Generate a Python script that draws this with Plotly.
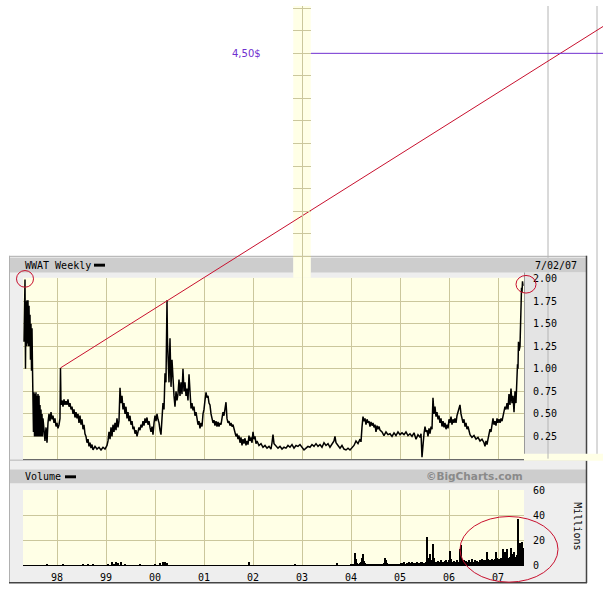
import plotly.graph_objects as go

# ---------------- DATA ----------------
# weekly WWAT price readings; t = fraction of the calendar year, p = price ($)
t97 = [0.327,0.337,0.347,0.357,0.367,0.378,0.388,0.398,0.408,0.418,0.429,0.439,0.449,0.459,0.469,0.480,0.490,0.500,
       0.510,0.520,0.531,0.541,0.551,0.561,0.571,0.582,0.592,0.602,0.612,0.622,0.633,0.643,0.653,0.663,0.673,0.684,0.694,0.704,
       0.714,0.735,0.755,0.776,0.796,0.816,0.837,0.857,0.878,0.898,0.918,0.939,0.959,0.980]
p97 = [1.30,1.60,1.99,1.00,1.75,1.25,1.76,1.28,1.76,1.25,1.70,1.25,1.60,1.10,1.50,0.98,1.45,1.00,
       0.74,0.30,0.74,0.25,0.72,0.25,0.74,0.25,0.70,0.25,0.72,0.25,0.70,0.25,0.60,0.25,0.55,0.25,0.50,0.25,
       0.45,0.30,0.20,0.35,0.18,0.40,0.50,0.42,0.52,0.44,0.48,0.40,0.45,0.36]

t98 = [0.000,0.020,0.041,0.061,0.071,0.082,0.102,0.122,0.143,0.163,0.184,0.204,0.224,0.245,0.265,0.286,0.306,0.327,0.347,0.367,0.388,0.408,0.429,0.449,0.469,0.490,0.510,0.531,0.551,0.571,0.592,0.612,0.633,0.653,0.673,0.694,0.714,0.735,0.776,0.816,0.857,0.898,0.939,0.980]
p98 = [0.40,0.34,0.38,0.45,1.01,0.60,0.65,0.58,0.66,0.60,0.64,0.60,0.66,0.58,0.62,0.55,0.58,0.50,0.55,0.46,0.52,0.45,0.50,0.40,0.48,0.38,0.44,0.33,0.38,0.28,0.25,0.18,0.22,0.14,0.18,0.12,0.16,0.10,0.14,0.11,0.13,0.10,0.13,0.11]

t99 = [0.020,0.041,0.061,0.082,0.102,0.122,0.143,0.163,0.184,0.204,0.224,0.245,0.265,0.286,0.306,0.327,0.347,0.367,0.388,0.408,0.429,0.449,0.469,0.490,0.510,0.531,0.551,0.571,0.592,0.612,0.633,0.653,0.673,0.694,0.714,0.735,0.755,0.776,0.796,0.816,0.837,0.857,0.878,0.898,0.918,0.939,0.959,0.980]
p99 = [0.15,0.20,0.30,0.22,0.35,0.25,0.38,0.30,0.40,0.32,0.45,0.35,0.42,0.79,0.62,0.70,0.55,0.62,0.50,0.58,0.45,0.52,0.42,0.48,0.38,0.42,0.33,0.36,0.28,0.32,0.25,0.30,0.35,0.32,0.38,0.35,0.42,0.37,0.45,0.40,0.46,0.38,0.42,0.35,0.30,0.36,0.27,0.40]

t00 = [0.000,0.020,0.041,0.061,0.082,0.102,0.122,0.143,0.163,0.184,0.204,0.224,0.245,0.255,0.265,0.286,0.306,0.327,0.347,0.367,0.388,0.408,0.429,0.449,0.469,0.490,0.510,0.531,0.551,0.571,0.592,0.612,0.633,0.653,0.673,0.694,0.714,0.735,0.755,0.776,0.796,0.816,0.837,0.857,0.878,0.898,0.918,0.939,0.959,0.980]
p00 = [0.48,0.42,0.50,0.44,0.40,0.32,0.27,0.45,0.62,0.55,0.95,0.85,1.76,1.30,1.15,0.85,1.34,0.80,1.10,0.84,0.70,0.58,0.75,0.65,0.72,0.88,0.70,0.85,0.72,1.00,0.75,0.85,0.70,0.78,0.65,0.94,0.65,0.56,0.62,0.54,0.58,0.48,0.52,0.45,0.38,0.42,0.34,0.40,0.36,0.50]

t01 = [0.000,0.020,0.041,0.061,0.082,0.102,0.122,0.143,0.163,0.184,0.204,0.224,0.245,0.265,0.286,0.306,0.327,0.347,0.367,0.388,0.408,0.429,0.449,0.469,0.490,0.510,0.531,0.551,0.571,0.592,0.612,0.633,0.653,0.673,0.694,0.714,0.735,0.755,0.776,0.796,0.816,0.837,0.857,0.878,0.898,0.918,0.939,0.959,0.980]
p01 = [0.55,0.65,0.74,0.68,0.70,0.62,0.60,0.50,0.45,0.40,0.43,0.37,0.42,0.36,0.41,0.36,0.40,0.38,0.45,0.52,0.48,0.55,0.63,0.45,0.40,0.42,0.37,0.40,0.36,0.38,0.34,0.30,0.25,0.28,0.22,0.26,0.18,0.24,0.15,0.22,0.17,0.23,0.15,0.20,0.16,0.26,0.20,0.24,0.18]

t02 = [0.000,0.020,0.041,0.061,0.082,0.122,0.163,0.204,0.245,0.286,0.327,0.367,0.388,0.408,0.429,0.469,0.510,0.551,0.592,0.633,0.673,0.714,0.755,0.796,0.837,0.878,0.918,0.959]
p02 = [0.30,0.22,0.25,0.17,0.20,0.15,0.17,0.13,0.15,0.12,0.14,0.11,0.18,0.27,0.17,0.14,0.12,0.14,0.11,0.13,0.12,0.15,0.13,0.16,0.12,0.15,0.14,0.16]

t03 = [0.000,0.041,0.082,0.122,0.163,0.204,0.245,0.286,0.327,0.367,0.408,0.449,0.490,0.531,0.571,0.612,0.653,0.673,0.694,0.735,0.776,0.816,0.857,0.898,0.939,0.980]
p03 = [0.13,0.10,0.12,0.14,0.13,0.16,0.14,0.17,0.14,0.16,0.13,0.18,0.15,0.17,0.13,0.17,0.20,0.25,0.18,0.15,0.12,0.15,0.11,0.10,0.12,0.10]

t04 = [0.020,0.061,0.102,0.143,0.184,0.204,0.224,0.245,0.265,0.286,0.306,0.327,0.347,0.367,0.388,0.408,0.429,0.449,0.469,0.490,0.510,0.531,0.551,0.571,0.592,0.633,0.673,0.714,0.755,0.796,0.837,0.878,0.918,0.959]
p04 = [0.12,0.15,0.20,0.17,0.22,0.19,0.35,0.47,0.42,0.45,0.38,0.44,0.40,0.42,0.36,0.41,0.37,0.40,0.35,0.38,0.30,0.37,0.33,0.36,0.32,0.30,0.26,0.30,0.27,0.28,0.25,0.29,0.26,0.30]

t05 = [0.000,0.041,0.082,0.122,0.163,0.204,0.245,0.286,0.327,0.367,0.408,0.429,0.449,0.469,0.490,0.510,0.531,0.551,0.571,0.592,0.612,0.633,0.653,0.673,0.694,0.714,0.735,0.755,0.776,0.796,0.816,0.837,0.857,0.878,0.898,0.918,0.939,0.959,0.980]
p05 = [0.27,0.29,0.27,0.30,0.26,0.28,0.25,0.29,0.22,0.27,0.24,0.28,0.02,0.20,0.28,0.36,0.30,0.32,0.25,0.34,0.28,0.36,0.33,0.68,0.50,0.58,0.47,0.52,0.44,0.48,0.40,0.45,0.36,0.42,0.35,0.40,0.33,0.38,0.34]

t06 = [0.000,0.020,0.041,0.061,0.082,0.102,0.122,0.143,0.163,0.184,0.204,0.224,0.245,0.265,0.286,0.306,0.327,0.347,0.367,0.388,0.408,0.429,0.469,0.510,0.551,0.592,0.633,0.673,0.714,0.735,0.755,0.776,0.796,0.816,0.837,0.857,0.878,0.898,0.918,0.939,0.959,0.980]
p06 = [0.44,0.40,0.47,0.38,0.44,0.40,0.45,0.40,0.48,0.52,0.56,0.60,0.50,0.46,0.40,0.44,0.36,0.40,0.33,0.36,0.30,0.27,0.24,0.26,0.22,0.24,0.20,0.22,0.18,0.14,0.20,0.16,0.22,0.28,0.33,0.30,0.38,0.45,0.38,0.42,0.37,0.45]

t07 = [0.000,0.020,0.041,0.061,0.082,0.102,0.122,0.143,0.163,0.184,0.204,0.224,0.245,0.265,0.286,0.306,0.327,0.347,0.367,0.388,0.398,0.408,0.418,0.429,0.449,0.459,0.469,0.480,0.490,0.500,0.510]
p07 = [0.40,0.44,0.40,0.45,0.42,0.48,0.52,0.58,0.55,0.62,0.55,0.72,0.60,0.78,0.62,0.70,0.52,0.75,0.62,0.95,1.05,1.00,1.30,1.20,1.25,1.50,1.55,1.90,1.85,1.97,1.92]

# weekly volume (millions) 2004 - mid 2007, one value per week
vol_2004 = [0.6,0.8,1.0,1.5,10,5,2,1.5,1.2,2,3,6,9,3.5,2,1.5,1.2,1.0,1.5,1.0,
            0.8,1.2,1.0,0.8,1.0,0.7,1.2,0.9,0.8,1.0,1.1,0.9,1.5,1.2,1.0,2.0,6,4.5,2,1.5,
            1.0,1.2,0.9,1.1,1.0,1.3,0.8,1.2,1.5,1.0,1.2,1.4]
vol_2005 = [1.5,2,1.2,1.8,2.5,1.5,1.2,2,1.8,2.5,1.5,2,3,1.8,1.5,2.2,1.6,2,2.8,1.5,
            2,1.8,2.5,3,2,1.5,2.2,2.5,23,4,6,9,3,4,3,17,6,2.5,3,2,
            3.5,2.5,3,4,2.5,3,2,3.5,4,3,2.5,4]
vol_2006 = [3,11.5,5,3,2.5,3.5,2,3,4,2.5,3,13,16,5,3,4,2.5,3,3.5,2,
            3,4,2.5,3,5,3,2.5,4,3,3.5,2.5,3,4,3,5,3.5,4,3,4.5,3,
            11,5,3.5,4,3,5,4,3.5,5,11,6,4]
vol_2007 = [4,5,4,6,5,13,5,11,6,13,5,6,7,14,9,6,11,7,6,7,8,37,9,18,10,19,14]
# sparse volume spikes before 2004 (decimal year, millions)
vol_early_t = [1997.796,1998.122,1998.531,1998.633,1998.735,1999.041,1999.122,1999.163,1999.204,1999.245,1999.306,1999.388,1999.694,2000.000,2000.102,2000.163,2000.204,2000.245,2001.918,2002.857,2003.714]
vol_early_v = [1.3,1.0,1.0,1.0,1.2,1.5,2.5,1.5,3.0,2.0,2.5,1.5,1.0,1.5,2.0,2.5,3.0,2.0,2.5,1.0,2.3]

year_ticks = [1998,1999,2000,2001,2002,2003,2004,2005,2006,2007]
year_labels = ["98","99","00","01","02","03","04","05","06","07"]
price_ticks = [0.25,0.50,0.75,1.00,1.25,1.50,1.75,2.00]
price_labels = ["0.25","0.50","0.75","1.00","1.25","1.50","1.75","2.00"]
vol_ticks = [0,20,40,60]
vol_labels = ["0","20","40","60"]

# hand-drawn annotations on the chart
trend_x = [1998.071, 2009.15]
trend_y = [1.01, 4.80]
target_price = 4.50
target_label = "4,50$"

# ---------------- LAYOUT ----------------
W, H = 603, 595
def X(px): return px / W
def Y(py): return 1 - py / H

YEAR0_PX, PX_PER_YEAR = 57.0, 49.0      # 1998 gridline, pixels per year
ZERO_PY, PX_PER_DOLLAR = 462.3, 92.0    # price 0 and pixels per dollar
def yr(px): return 1998 + (px - YEAR0_PX) / PX_PER_YEAR
def pr(py): return (ZERO_PY - py) / PX_PER_DOLLAR

PL, PR = 23.0, 524.0          # plot left/right
PT, PB = 277.3, ZERO_PY       # price plot top/bottom
VT, VB = 494.0, 571.0         # volume plot top/bottom
SL, SR = 293.3, 310.7         # yellow strip

price_x, price_y = [], []
for y0, ts, ps in [(1997,t97,p97),(1998,t98,p98),(1999,t99,p99),(2000,t00,p00),(2001,t01,p01),
                   (2002,t02,p02),(2003,t03,p03),(2004,t04,p04),(2005,t05,p05),(2006,t06,p06),(2007,t07,p07)]:
    for t, p in zip(ts, ps):
        price_x.append(y0 + t)
        price_y.append(p)

vol_x, vol_y = list(vol_early_t), list(vol_early_v)
for y0, vs in [(2004,vol_2004),(2005,vol_2005),(2006,vol_2006),(2007,vol_2007)]:
    for i, v in enumerate(vs):
        vol_x.append(y0 + (i + 0.5) / 52)
        vol_y.append(v)

PLOT_BG = "#ffffe6"
GRID = "#cbc79c"
PANEL = "#eeeeee"
HEADER = "#cdcdcd"
AXISBG = "#e4e4e4"
RED = "#c8102e"
PURPLE = "#7030d0"
MONO = "DejaVu Sans Mono"

fig = go.Figure()
fig.add_trace(go.Scatter(x=price_x, y=price_y, mode="lines", line=dict(color="black", width=1.5),
                         xaxis="x", yaxis="y", hoverinfo="skip"))
fig.add_trace(go.Bar(x=vol_x, y=vol_y, width=0.021, marker=dict(color="black", line=dict(width=0)),
                     xaxis="x2", yaxis="y2", hoverinfo="skip"))
fig.add_trace(go.Scatter(x=trend_x, y=trend_y, mode="lines", line=dict(color=RED, width=1),
                         xaxis="x3", yaxis="y3", hoverinfo="skip"))
fig.add_trace(go.Scatter(x=[yr(311), yr(W)], y=[target_price, target_price], mode="lines",
                         line=dict(color=PURPLE, width=1), xaxis="x3", yaxis="y3", hoverinfo="skip"))

shapes = []
def rect(x0, y0, x1, y1, fill, layer="below", line=None):
    shapes.append(dict(type="rect", xref="paper", yref="paper", x0=X(x0), x1=X(x1), y0=Y(y1), y1=Y(y0),
                       fillcolor=fill, line=line or dict(width=0), layer=layer))
def hline(x0, x1, y, color, w=1, layer="below"):
    shapes.append(dict(type="line", xref="paper", yref="paper", x0=X(x0), x1=X(x1), y0=Y(y), y1=Y(y),
                       line=dict(color=color, width=w), layer=layer))
def vline(x, y0, y1, color, w=1, layer="below"):
    shapes.append(dict(type="line", xref="paper", yref="paper", x0=X(x), x1=X(x), y0=Y(y0), y1=Y(y1),
                       line=dict(color=color, width=w), layer=layer))

# chart frame
rect(9, 255, 587, 589, PANEL)
rect(10, 257, SL, 272, HEADER)
rect(SR, 257, 586, 272, HEADER)
rect(PR, 272, 586, 462, AXISBG)
rect(PL, PT, PR, PB, PLOT_BG)
rect(10, 473, 586, 487, HEADER)
rect(PL, VT, PR, VB, PLOT_BG)
rect(SL, 0, SR, PT, PLOT_BG)
vline(PR + 0.5, 272, 462, "#9a9a9a")
hline(9, 587, 255.5, "#b0b0b0")
vline(9.5, 255, 589, "#b0b0b0")
vline(586.5, 255, 589, "#444444", 1.5)
hline(9, 587, 588.5, "#444444", 1.5)
hline(9, 587, 463.5, "#b5b5b5")
# pasted strip at lower right
rect(PR, 457, W, 464, PLOT_BG)
# grey verticals
vline(548, 0, 257, "#b4b4b4")
vline(548, 272, 462, "#b4b4b4")
vline(597, 0, 457, "#b4b4b4")
# legend swatches
rect(94, 263, 105, 266, "black", layer="above")
rect(65, 479, 76, 482, "black", layer="above")
# red circles
def circ(cx, cy, rx, ry):
    shapes.append(dict(type="circle", xref="paper", yref="paper", x0=X(cx - rx), x1=X(cx + rx),
                       y0=Y(cy + ry), y1=Y(cy - ry), line=dict(color=RED, width=1), layer="above"))
circ(25, 278.5, 8.5, 8.5)
circ(526, 284, 10, 9)
circ(509, 554.5, 49, 33.5)

annotations = [
    dict(text="WWAT Weekly", x=X(PL), y=Y(264.5), xanchor="left", yanchor="middle"),
    dict(text="7/02/07", x=X(533), y=Y(264.5), xanchor="left", yanchor="middle"),
    dict(text="Volume", x=X(PL), y=Y(480), xanchor="left", yanchor="middle"),
    dict(text="Millions", x=X(578), y=Y(531), xanchor="center", yanchor="middle", textangle=90),
]
for a in annotations:
    a.update(xref="paper", yref="paper", showarrow=False, font=dict(family=MONO, size=10, color="black"))
annotations.append(dict(text="<b>©BigCharts.com</b>", x=X(525), y=Y(480), xref="paper", yref="paper",
                        xanchor="right", yanchor="middle", showarrow=False,
                        font=dict(family="DejaVu Sans", size=10.5, color="#8a8a8a")))
annotations.append(dict(text=target_label, x=yr(246), y=target_price, xref="x3", yref="y3",
                        xanchor="center", yanchor="middle", showarrow=False,
                        font=dict(family="DejaVu Sans", size=10, color=PURPLE)))

xr = [yr(PL), yr(PR)]
common_x = dict(range=xr, tickvals=year_ticks, showgrid=True, gridcolor=GRID, gridwidth=1,
                zeroline=False, ticks="", fixedrange=True)
fig.update_layout(
    width=W, height=H, margin=dict(l=0, r=0, t=0, b=0),
    paper_bgcolor="white", plot_bgcolor="rgba(0,0,0,0)", showlegend=False,
    shapes=shapes, annotations=annotations, bargap=0,
    xaxis=dict(domain=[X(PL), X(PR)], anchor="y", showticklabels=False,
               showline=True, linecolor="#6a6a6a", linewidth=1, **common_x),
    yaxis=dict(domain=[Y(PB), Y(PT)], anchor="x", range=[0, pr(PT)], side="right",
               tickvals=price_ticks, ticktext=price_labels, showgrid=True, gridcolor=GRID,
               zeroline=False, ticks="", ticklabelstandoff=8,
               tickfont=dict(family=MONO, size=10, color="black")),
    xaxis2=dict(domain=[X(PL), X(PR)], anchor="y2", ticktext=year_labels, showticklabels=True,
                showline=True, linecolor="black", linewidth=1, ticklabelstandoff=3,
                tickfont=dict(family=MONO, size=10, color="black"), **common_x),
    yaxis2=dict(domain=[Y(VB), Y(VT)], anchor="x2", range=[0, 60], side="right",
                tickvals=vol_ticks, ticktext=vol_labels, showgrid=True, gridcolor=GRID,
                zeroline=False, ticks="", ticklabelstandoff=8,
                tickfont=dict(family=MONO, size=10, color="black")),
    xaxis3=dict(domain=[0, 1], anchor="y3", range=[yr(0), yr(W)], visible=False),
    yaxis3=dict(domain=[0, 1], anchor="x3", range=[pr(H), pr(0)], visible=False),
    xaxis4=dict(domain=[X(SL), X(SR)], anchor="y4", range=[yr(SL), yr(SR)], tickvals=[2003],
                showticklabels=False, showgrid=True, gridcolor=GRID, zeroline=False, ticks=""),
    yaxis4=dict(domain=[Y(PT), 1], anchor="x4", range=[pr(PT), pr(0)], dtick=0.25, tick0=0,
                showticklabels=False, showgrid=True, gridcolor=GRID, zeroline=False, ticks=""),
)
# invisible trace to activate the strip subplot
fig.add_trace(go.Scatter(x=[2003], y=[3], mode="markers", marker=dict(opacity=0), xaxis="x4", yaxis="y4",
                         hoverinfo="skip"))
fig.write_html("out.html", config={"displayModeBar": False},
               post_script="document.body.style.margin='0';document.body.style.overflow='hidden';")
